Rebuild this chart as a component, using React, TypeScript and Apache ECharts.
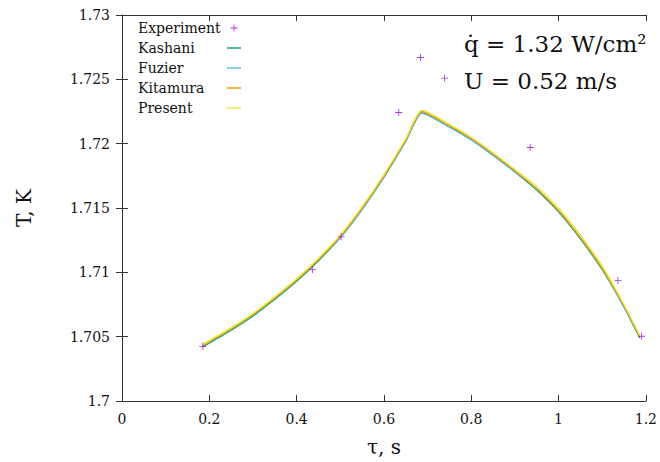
import React, { useEffect, useRef } from "react";
import * as echarts from "echarts";

const tau = [0.185, 0.25, 0.3, 0.35, 0.4, 0.45, 0.5, 0.55, 0.6, 0.65, 0.687, 0.75, 0.8, 0.85, 0.9, 0.95, 1.0, 1.05, 1.1, 1.15, 1.186];
const kashani = [1.7042, 1.7055, 1.7066, 1.7079, 1.7093, 1.7109, 1.7127, 1.7149, 1.7174, 1.7202, 1.7224, 1.7213, 1.7203, 1.7191, 1.7178, 1.7164, 1.7147, 1.7126, 1.7102, 1.7073, 1.7049];
const fuzier = [1.7043, 1.7056, 1.7067, 1.7080, 1.7094, 1.7110, 1.7127, 1.7149, 1.7175, 1.7202, 1.7224, 1.7213, 1.7203, 1.7191, 1.7178, 1.7165, 1.7148, 1.7127, 1.7103, 1.7073, 1.7050];
const kitamura = [1.7043, 1.7056, 1.7067, 1.7080, 1.7094, 1.7110, 1.7128, 1.7150, 1.7175, 1.7203, 1.7225, 1.7214, 1.7204, 1.7192, 1.7179, 1.7165, 1.7148, 1.7127, 1.7103, 1.7074, 1.7050];
const present = [1.7044, 1.7057, 1.7068, 1.7081, 1.7095, 1.7111, 1.7129, 1.7151, 1.7176, 1.7204, 1.7226, 1.7215, 1.7205, 1.7193, 1.7180, 1.7167, 1.7150, 1.7129, 1.7105, 1.7075, 1.7051];

const expTau = [0.185, 0.436, 0.502, 0.634, 0.684, 0.739, 0.935, 1.136, 1.19];
const expT = [1.70425, 1.71021, 1.71276, 1.72242, 1.7267, 1.7251, 1.7197, 1.70936, 1.70503];

const xTicks = [0, 0.2, 0.4, 0.6, 0.8, 1, 1.2];
const yTicks = [1.7, 1.705, 1.71, 1.715, 1.72, 1.725, 1.73];

const seriesNames = ["Kashani", "Fuzier", "Kitamura", "Present"];
const seriesColors = ["#009e73", "#56b4e9", "#e69f00", "#f0e442"];
const seriesValues = [kashani, fuzier, kitamura, present];

const SERIF = "DejaVu Serif";
const PLUS = "path://M4.4,0H5.6V4.4H10V5.6H5.6V10H4.4V5.6H0V4.4H4.4Z";
const DASH = "path://M0,0H14V1.4H0Z";

export default function App() {
  const ref = useRef<HTMLDivElement>(null);
  useEffect(() => {
    if (!ref.current) return;
    const chart = echarts.init(ref.current, undefined, { renderer: "svg" });
    const axisLine = { show: true, lineStyle: { color: "#333", width: 1 } };
    const tick = { show: true, inside: true, length: 6, lineStyle: { color: "#333" } };
    const lineSeries = seriesNames.map((name, i) => ({
      name,
      type: "line",
      xAxisIndex: 0,
      yAxisIndex: 0,
      data: tau.map((t, j) => [t, seriesValues[i][j]]),
      symbol: "none",
      showSymbol: false,
      smooth: 0.2,
      lineStyle: { color: seriesColors[i], width: 1.3 },
      itemStyle: { color: seriesColors[i] },
      z: 2 + i,
    }));
    chart.setOption({
      animation: false,
      backgroundColor: "#fff",
      textStyle: { fontFamily: SERIF },
      grid: { left: 122, right: 11, top: 15, bottom: 59, containLabel: false },
      xAxis: [
        {
          type: "value",
          min: 0,
          max: 1.2,
          interval: 0.2,
          position: "bottom",
          axisLine,
          axisTick: tick,
          splitLine: { show: false },
          axisLabel: {
            color: "#111",
            fontFamily: SERIF,
            fontSize: 14,
            margin: 11,
            formatter: (v: number) => (xTicks.some((t) => Math.abs(t - v) < 1e-9) ? String(+v.toFixed(1)) : ""),
          },
          name: "τ, s",
          nameLocation: "middle",
          nameGap: 36,
          nameTextStyle: { color: "#111", fontFamily: SERIF, fontSize: 20 },
        },
        {
          type: "value",
          min: 0,
          max: 1.2,
          interval: 0.2,
          position: "top",
          axisLine,
          axisTick: tick,
          axisLabel: { show: false },
          splitLine: { show: false },
        },
      ],
      yAxis: [
        {
          type: "value",
          min: 1.7,
          max: 1.73,
          interval: 0.005,
          position: "left",
          axisLine,
          axisTick: tick,
          splitLine: { show: false },
          axisLabel: {
            color: "#111",
            fontFamily: SERIF,
            fontSize: 14,
            margin: 12,
            formatter: (v: number) => {
              const m = yTicks.find((t) => Math.abs(t - v) < 1e-9);
              return m === undefined ? "" : String(+m.toFixed(3));
            },
          },
          name: "T, K",
          nameLocation: "middle",
          nameGap: 88,
          nameRotate: 90,
          nameTextStyle: { color: "#111", fontFamily: SERIF, fontSize: 20 },
        },
        {
          type: "value",
          min: 1.7,
          max: 1.73,
          interval: 0.005,
          position: "right",
          axisLine,
          axisTick: tick,
          axisLabel: { show: false },
          splitLine: { show: false },
        },
      ],
      legend: {
        orient: "vertical",
        left: 133,
        top: 16,
        align: "right",
        itemWidth: 14,
        itemHeight: 7,
        itemGap: 6,
        symbolKeepAspect: true,
        formatter: (name: string) => `{t|${name}}`,
        textStyle: {
          fontFamily: SERIF,
          fontSize: 14,
          color: "#111",
          rich: { t: { width: 84, height: 14, align: "left", fontFamily: SERIF, fontSize: 14, color: "#111" } },
        },
        data: [
          { name: "Experiment", icon: PLUS },
          ...seriesNames.map((n) => ({ name: n, icon: DASH })),
        ],
      },
      graphic: [
        {
          type: "text",
          left: 464,
          top: 32,
          style: { text: "q̇ = 1.32 W/cm²", fontFamily: SERIF, fontSize: 23, fill: "#111" },
        },
        {
          type: "text",
          left: 464,
          top: 69,
          style: { text: "U = 0.52 m/s", fontFamily: SERIF, fontSize: 23, fill: "#111" },
        },
      ],
      series: [
        ...lineSeries,
        {
          name: "Experiment",
          type: "scatter",
          data: expTau.map((t, j) => [t, expT[j]]),
          symbol: PLUS,
          symbolSize: 7,
          itemStyle: { color: "#9400d3" },
          z: 10,
        },
      ],
    });
    return () => chart.dispose();
  }, []);
  return <div ref={ref} style={{ width: 660, height: 462, position: "absolute", left: 0, top: 0 }} />;
}
